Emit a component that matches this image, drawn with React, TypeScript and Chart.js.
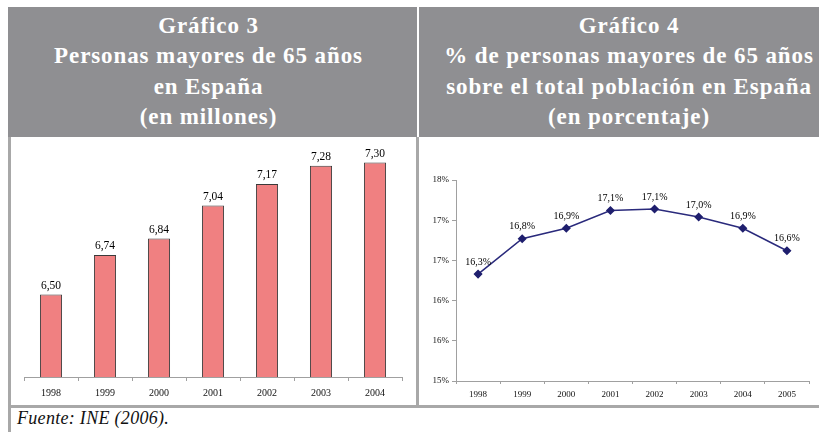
import React, { useEffect, useRef } from "react";
import { Chart, registerables } from "chart.js";

Chart.register(...registerables);

const barYears = ["1998", "1999", "2000", "2001", "2002", "2003", "2004"];
const barMillions = [6.5, 6.74, 6.84, 7.04, 7.17, 7.28, 7.3];

const lineYears = ["1998", "1999", "2000", "2001", "2002", "2003", "2004", "2005"];
const linePercent = [16.33, 16.77, 16.9, 17.12, 17.14, 17.04, 16.9, 16.62];

const leftTitle = ["Gráfico 3", "Personas mayores de 65 años", "en España", "(en millones)"];
const rightTitle = [
  "Gráfico 4",
  "% de personas mayores de 65 años",
  "sobre el total población en España",
  "(en porcentaje)",
];
const sourceText = "Fuente: INE (2006).";

const SERIF = "'Liberation Serif', 'DejaVu Serif', serif";
const HEADER_BG = "#8f8f92";
const BORDER = "#a8a8a8";

function labelPlugin(id: string, fmt: (v: number) => string, offset: number, size: number) {
  return {
    id,
    afterDatasetsDraw(chart: any) {
      const ctx = chart.ctx;
      const meta = chart.getDatasetMeta(0);
      const data = chart.data.datasets[0].data as number[];
      ctx.save();
      ctx.font = `${size}px ${SERIF}`;
      ctx.fillStyle = "#000";
      ctx.textAlign = "center";
      ctx.textBaseline = "bottom";
      meta.data.forEach((el: any, i: number) => {
        ctx.fillText(fmt(data[i]), el.x, el.y - offset);
      });
      ctx.restore();
    },
  };
}

function BarChart() {
  const ref = useRef<HTMLCanvasElement>(null);
  useEffect(() => {
    const chart = new Chart(ref.current!, {
      type: "bar",
      data: {
        labels: barYears,
        datasets: [
          {
            data: barMillions,
            backgroundColor: "#f08081",
            borderColor: "#3a3a3a",
            borderWidth: 1,
            categoryPercentage: 1,
            barPercentage: 0.41,
          },
        ],
      },
      options: {
        animation: false,
        responsive: false,
        maintainAspectRatio: false,
        layout: { padding: { left: 13, right: 14, top: 9, bottom: 0 } },
        plugins: { legend: { display: false }, tooltip: { enabled: false } },
        scales: {
          x: {
            afterFit: (s: any) => {
              s.height = 28;
            },
            border: { display: true, color: "#a0a0a0", width: 1 },
            grid: { display: true, drawOnChartArea: false, drawTicks: true, tickLength: 4, color: "#a0a0a0", offset: true },
            ticks: { color: "#111", font: { family: SERIF, size: 10 }, padding: 6 },
          },
          y: { display: false, min: 6, max: 7.4 },
        },
      },
      plugins: [labelPlugin("barLabels", (v) => v.toFixed(2).replace(".", ","), 3, 11.5)],
    });
    return () => chart.destroy();
  }, []);
  return <canvas ref={ref} width={405} height={268} style={{ position: "absolute", left: 11, top: 137, width: 405, height: 268 }} />;
}

function LineChart() {
  const ref = useRef<HTMLCanvasElement>(null);
  useEffect(() => {
    const chart = new Chart(ref.current!, {
      type: "line",
      data: {
        labels: lineYears,
        datasets: [
          {
            data: linePercent,
            borderColor: "#2a2a7c",
            backgroundColor: "#2a2a7c",
            borderWidth: 1.5,
            pointStyle: "rectRot",
            pointRadius: 3.5,
            pointBackgroundColor: "#1f1f6e",
            pointBorderColor: "#1f1f6e",
            tension: 0,
          },
        ],
      },
      options: {
        animation: false,
        responsive: false,
        maintainAspectRatio: false,
        layout: { padding: { left: 0, right: 10, top: 43, bottom: 0 } },
        plugins: { legend: { display: false }, tooltip: { enabled: false } },
        scales: {
          x: {
            offset: true,
            afterFit: (s: any) => {
              s.height = 24;
            },
            border: { display: true, color: "#a0a0a0", width: 1 },
            grid: { display: true, drawOnChartArea: false, drawTicks: true, tickLength: 3, color: "#a0a0a0", offset: true },
            ticks: { color: "#111", font: { family: SERIF, size: 9 }, padding: 5 },
          },
          y: {
            min: 15,
            max: 17.5,
            afterFit: (s: any) => {
              s.width = 37;
            },
            border: { display: true, color: "#a0a0a0", width: 1 },
            grid: { display: true, drawOnChartArea: false, drawTicks: true, tickLength: 4, color: "#a0a0a0" },
            ticks: {
              stepSize: 0.5,
              color: "#111",
              padding: 3,
              font: { family: SERIF, size: 9 },
              callback: (v: any) => Math.round(Number(v)) + "%",
            },
          },
        },
      },
      plugins: [labelPlugin("lineLabels", (v) => v.toFixed(1).replace(".", ",") + "%", 7, 10)],
    });
    return () => chart.destroy();
  }, []);
  return <canvas ref={ref} width={400} height={268} style={{ position: "absolute", left: 419, top: 137, width: 400, height: 268 }} />;
}

function Header({ left, width, lines, spacing }: { left: number; width: number; lines: string[]; spacing: number }) {
  return (
    <div
      style={{
        position: "absolute",
        left,
        top: 10.5,
        width,
        textAlign: "center",
        color: "#ffffff",
        fontFamily: SERIF,
        fontWeight: "bold",
        fontSize: 23,
        letterSpacing: spacing,
        lineHeight: "30.6px",
        whiteSpace: "nowrap",
      }}
    >
      {lines.map((l, i) => (
        <div key={i}>{l}</div>
      ))}
    </div>
  );
}

export default function App() {
  return (
    <div
      style={{
        position: "absolute",
        left: 0,
        top: 0,
        width: 819,
        height: 432,
        background: "#fff",
        overflow: "hidden",
      }}
    >
      <div style={{ position: "absolute", left: 8, top: 7, width: 409, height: 130, background: HEADER_BG }} />
      <div style={{ position: "absolute", left: 419, top: 7, width: 400, height: 130, background: HEADER_BG }} />
      <Header left={4} width={409} lines={leftTitle} spacing={0.9} />
      <Header left={420} width={418} lines={rightTitle} spacing={0.9} />
      <div style={{ position: "absolute", left: 8, top: 137, width: 3, height: 295, background: BORDER }} />
      <div style={{ position: "absolute", left: 416, top: 137, width: 3, height: 271, background: BORDER }} />
      <div style={{ position: "absolute", left: 8, top: 405, width: 811, height: 3, background: BORDER }} />
      <BarChart />
      <LineChart />
      <div
        style={{
          position: "absolute",
          left: 17,
          top: 408,
          fontFamily: SERIF,
          fontStyle: "italic",
          fontSize: 18,
          lineHeight: "20px",
          letterSpacing: 0.3,
          color: "#111",
          whiteSpace: "nowrap",
        }}
      >
        {sourceText}
      </div>
    </div>
  );
}
